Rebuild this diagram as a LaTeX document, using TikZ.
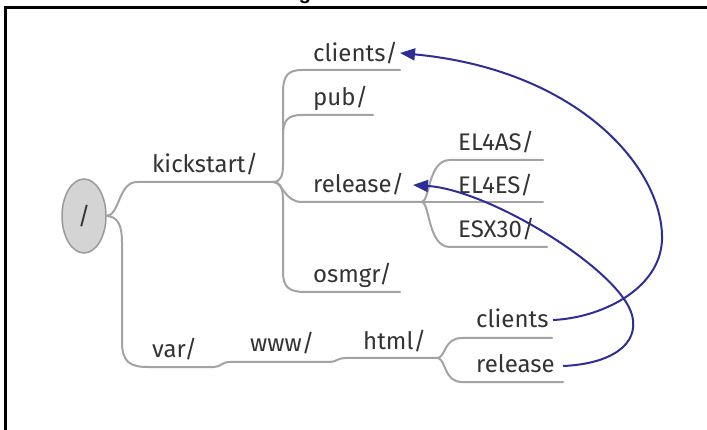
\documentclass[tikz,border=0pt]{standalone}
\usepackage{fontspec}
\setmainfont{Fira Sans}
\newfontfamily\titlefont{Liberation Sans}
\usetikzlibrary{shapes.geometric,arrows.meta}
\definecolor{branch}{HTML}{A3A3A3}
\definecolor{labelcol}{HTML}{333333}
\definecolor{link}{HTML}{2E2E96}
\definecolor{rootfill}{HTML}{D4D4D4}
\definecolor{rootdraw}{HTML}{9A9A9A}
\begin{document}
\begin{tikzpicture}[x=1pt,y=-1pt,
  lbl/.style={anchor=base west,inner sep=0pt,text=labelcol,font=\fontsize{24}{28}\selectfont},
  branchline/.style={draw=branch,line width=2pt,line cap=round},
  linkline/.style={draw=link,line width=2pt,-{Stealth[length=15pt,width=12pt,inset=0pt]}},
  frameline/.style={draw=black,line width=3pt},
  rootnode/.style={ellipse,draw=rootdraw,fill=rootfill,line width=1.5pt,minimum width=44pt,minimum height=74pt,inner sep=0pt,text=labelcol,font=\fontsize{24}{28}\selectfont}]
\useasboundingbox (0,0) rectangle (707,430);
\begin{scope}
\clip (0,0) rectangle (707,430);
\node[anchor=base,inner sep=0pt,font=\titlefont\bfseries\fontsize{20}{24}\selectfont] (title) at (305,0) {g};
\end{scope}
% frame
\coordinate (fTL) at (5,8);
\coordinate (fTR) at (707,8);
\coordinate (fBL) at (5,430);
\draw[frameline] (fTR) -- (fTL) -- (fBL);
% root
\node[rootnode] (root) at (84,216) {/};
% junctions and ends
\coordinate (rootE) at (106,216);
\coordinate (kickStart) at (137,182);
\coordinate (kj) at (273,182);
\coordinate (hj) at (438,358);
\coordinate (rj) at (422,202);
\coordinate (clientsEnd) at (400,70);
\coordinate (pubEnd) at (373,115);
\coordinate (osmgrEnd) at (400,292);
\coordinate (asEnd) at (543,160);
\coordinate (esEnd) at (543,202);
\coordinate (esxEnd) at (547,247);
\coordinate (hcEnd) at (552,338);
\coordinate (hrEnd) at (563,382);
% branches
\draw[branchline] (rootE) .. controls (120,216) and (118,182) .. (kickStart) -- (kj);
\draw[branchline] (rootE) .. controls (118,216) and (122,226) .. (122,242) -- (122,342)
  .. controls (122,362) and (130,367) .. (148,367) -- (214,367)
  .. controls (220,367) and (222,362) .. (230,362) -- (330,362)
  .. controls (336,362) and (338,358) .. (345,358) -- (hj);
\draw[branchline] (kj) .. controls (281,182) and (283,175) .. (283,165) -- (283,92)
  .. controls (283,76) and (288,70) .. (302,70) -- (clientsEnd);
\draw[branchline] (283,135) .. controls (283,120) and (288,115) .. (302,115) -- (pubEnd);
\draw[branchline] (kj) .. controls (283,182) and (284,202) .. (302,202) -- (rj);
\draw[branchline] (kj) .. controls (281,182) and (283,190) .. (283,200) -- (283,272)
  .. controls (283,287) and (289,292) .. (305,292) -- (osmgrEnd);
\draw[branchline] (rj) .. controls (430,200) and (428,160) .. (450,160) -- (asEnd);
\draw[branchline] (rj) -- (esEnd);
\draw[branchline] (rj) .. controls (430,204) and (428,247) .. (450,247) -- (esxEnd);
\draw[branchline] (hj) .. controls (446,356) and (444,338) .. (462,338) -- (hcEnd);
\draw[branchline] (hj) .. controls (446,360) and (444,382) .. (462,382) -- (hrEnd);
% labels
\node[lbl] (kick) at (152,173) {kickstart/};
\node[lbl] (clientsDir) at (313,62) {clients/};
\node[lbl] (pub) at (313,106) {pub/};
\node[lbl] (releaseDir) at (313,193) {release/};
\node[lbl] (osmgr) at (313,283) {osmgr/};
\node[lbl] (elas) at (458,151) {EL4AS/};
\node[lbl] (eles) at (458,194) {EL4ES/};
\node[lbl] (esx) at (458,238) {ESX30/};
\node[lbl] (var) at (152,357) {var/};
\node[lbl] (www) at (250,352) {www/};
\node[lbl] (html) at (363,350) {html/};
\node[lbl] (clientsLink) at (476,328) {clients};
\node[lbl] (releaseLink) at (476,373) {release};
% links
\coordinate (c1s) at (553,320);
\coordinate (c1m) at (662,240);
\coordinate (c1t) at (400,53);
\coordinate (c2s) at (563,366);
\coordinate (c2m) at (632,315);
\coordinate (c2t) at (413,185);
\draw[linkline] (c1s) .. controls (600,318) and (660,290) .. (c1m)
  .. controls (664,170) and (580,70) .. (c1t);
\draw[linkline] (c2s) .. controls (610,364) and (640,345) .. (c2m)
  .. controls (620,270) and (490,190) .. (c2t);
\end{tikzpicture}
\end{document}
